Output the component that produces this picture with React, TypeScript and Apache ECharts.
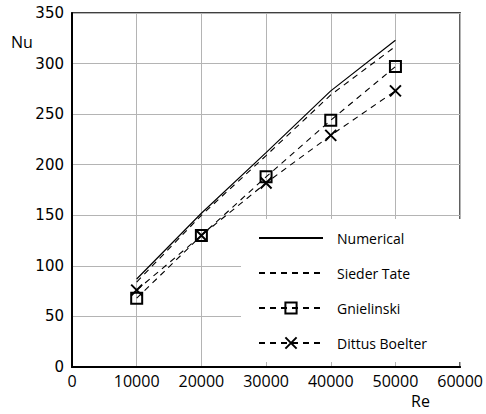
import React, { useEffect, useRef } from "react";
import * as echarts from "echarts";

const reynolds = [10000, 20000, 30000, 40000, 50000];
const numerical = [87, 152, 212, 273, 323];
const siederTate = [84, 150, 209, 269, 317];
const gnielinski = [68, 130, 188, 244, 297];
const dittusBoelter = [76, 130, 182, 229, 273];

const xTicks = { min: 0, max: 60000, interval: 10000 };
const yTicks = { min: 0, max: 350, interval: 50 };

const seriesNames = ["Numerical", "Sieder Tate", "Gnielinski", "Dittus Boelter"];

const pair = (ys: number[]) => reynolds.map((x, i) => [x, ys[i]]);

export default function App() {
  const ref = useRef<HTMLDivElement>(null);
  useEffect(() => {
    if (!ref.current) return;
    const chart = echarts.init(ref.current, undefined, { renderer: "svg" });
    const dash = [6, 5];
    const hidden = { color: "transparent", borderColor: "transparent", borderWidth: 0, opacity: 0 };
    chart.setOption({
      animation: false,
      backgroundColor: "#fff",
      grid: {
        left: 72,
        right: 17,
        top: 13,
        bottom: 47,
        show: true,
        borderColor: "#000",
        borderWidth: 1.5,
        backgroundColor: "transparent",
      },
      xAxis: {
        type: "value",
        ...xTicks,
        axisLine: { show: true, lineStyle: { color: "#000", width: 2 } },
        axisTick: { show: false },
        splitLine: { show: true, lineStyle: { color: "#b4b4b4", width: 1 } },
        axisLabel: {
          color: "#000",
          fontFamily: "Open Sans",
          fontSize: 16,
          margin: 6,
          formatter: (v: number) => String(v),
        },
      },
      yAxis: {
        type: "value",
        ...yTicks,
        axisLine: { show: true, lineStyle: { color: "#000", width: 2 } },
        axisTick: { show: false },
        splitLine: { show: true, lineStyle: { color: "#b4b4b4", width: 1 } },
        axisLabel: {
          color: "#000",
          fontFamily: "DejaVu Sans",
          fontSize: 15,
          margin: 8,
        },
      },
      legend: {
        data: [
          { name: seriesNames[0], itemStyle: hidden },
          { name: seriesNames[1], itemStyle: hidden },
          { name: seriesNames[2] },
          { name: seriesNames[3] },
        ],
        orient: "vertical",
        left: 241,
        top: 219,
        padding: [12, 40, 12, 17],
        backgroundColor: "#fff",
        itemWidth: 64,
        itemHeight: 14,
        itemGap: 21,
        textStyle: {
          color: "#000",
          fontFamily: "Open Sans",
          fontSize: 14,
          lineHeight: 14,
          padding: [0, 0, 0, 9],
        },
      },
      graphic: [
        {
          type: "text",
          left: 11,
          top: 34,
          style: { text: "Nu", fontFamily: "Open Sans", fontSize: 16, fill: "#000" },
        },
        {
          type: "text",
          left: 411,
          top: 393,
          style: { text: "Re", fontFamily: "Open Sans", fontSize: 16, fill: "#000" },
        },
      ],
      series: [
        {
          name: seriesNames[0],
          type: "line",
          data: pair(numerical),
          symbol: "none",
          color: "#000",
          lineStyle: { color: "#000", width: 1.2, type: "solid" },
        },
        {
          name: seriesNames[1],
          type: "line",
          data: pair(siederTate),
          symbol: "none",
          color: "#000",
          lineStyle: { color: "#000", width: 1.1, type: dash },
        },
        {
          name: seriesNames[2],
          type: "line",
          data: pair(gnielinski),
          symbol: "rect",
          symbolSize: 11,
          color: "#000",
          itemStyle: { color: "transparent", borderColor: "#000", borderWidth: 2 },
          lineStyle: { color: "#000", width: 1.1, type: dash },
        },
        {
          name: seriesNames[3],
          type: "line",
          data: pair(dittusBoelter),
          symbol: "path://M0,0L10,10M10,0L0,10",
          symbolSize: 11,
          color: "#000",
          itemStyle: { color: "transparent", borderColor: "#000", borderWidth: 2 },
          lineStyle: { color: "#000", width: 1.1, type: dash },
        },
      ],
    });
    return () => chart.dispose();
  }, []);
  return <div ref={ref} style={{ width: 486, height: 414, position: "absolute", left: 0, top: 0 }} />;
}
